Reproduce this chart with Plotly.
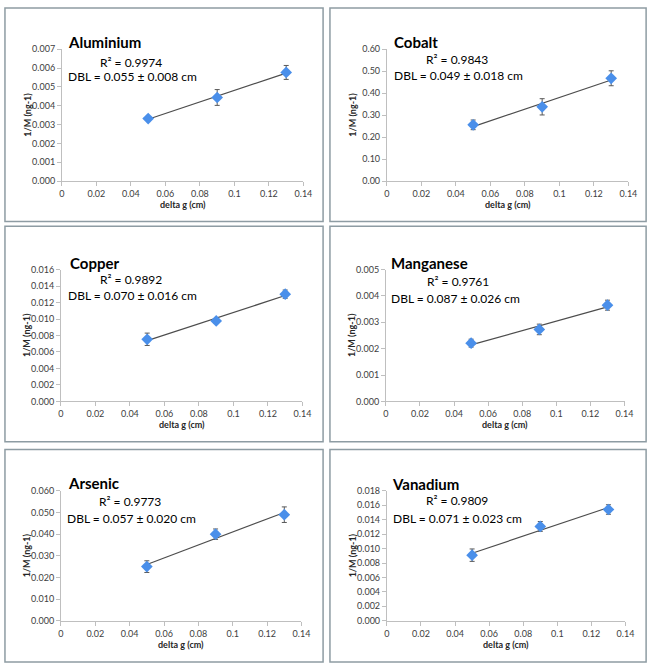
import numpy as np
import plotly.graph_objects as go

W, H = 661, 669

# ---------------- data ----------------
delta_g = [0.05, 0.09, 0.13]
x_tick_vals = [0, 0.02, 0.04, 0.06, 0.08, 0.10, 0.12, 0.14]
x_tick_labels = ["0", "0.02", "0.04", "0.06", "0.08", "0.1", "0.12", "0.14"]

elements = ["Aluminium", "Cobalt", "Copper", "Manganese", "Arsenic", "Vanadium"]
r2_labels = ["0.9974", "0.9843", "0.9892", "0.9761", "0.9773", "0.9809"]
dbl_labels = ["0.055 ± 0.008", "0.049 ± 0.018", "0.070 ± 0.016",
              "0.087 ± 0.026", "0.057 ± 0.020", "0.071 ± 0.023"]

inv_m_aluminium = [0.00332, 0.00444, 0.00577]
err_aluminium = [0.00004, 0.00042, 0.00037]
inv_m_cobalt = [0.256, 0.338, 0.468]
err_cobalt = [0.022, 0.037, 0.034]
inv_m_copper = [0.00754, 0.00977, 0.01302]
err_copper = [0.00075, 0.00030, 0.00050]
inv_m_manganese = [0.00221, 0.00273, 0.00365]
err_manganese = [0.00015, 0.00020, 0.00019]
inv_m_arsenic = [0.0250, 0.0400, 0.0490]
err_arsenic = [0.0027, 0.0024, 0.0036]
inv_m_vanadium = [0.00909, 0.01307, 0.01542]
err_vanadium = [0.00086, 0.00068, 0.00066]

y_max = [0.007, 0.60, 0.016, 0.005, 0.060, 0.018]
y_dtick = [0.001, 0.10, 0.002, 0.001, 0.010, 0.002]
y_fmt = [".3f", ".2f", ".3f", ".3f", ".3f", ".3f"]

series = [(inv_m_aluminium, err_aluminium), (inv_m_cobalt, err_cobalt),
          (inv_m_copper, err_copper), (inv_m_manganese, err_manganese),
          (inv_m_arsenic, err_arsenic), (inv_m_vanadium, err_vanadium)]

# ---------------- layout geometry (pixels) ----------------
boxes = [(2, 2, 326, 219), (333, 2, 655, 219),
         (2, 224, 326, 443), (333, 224, 655, 443),
         (2, 451, 326, 667), (333, 451, 655, 667)]
plots = [(60, 44, 306, 178), (391, 44, 637, 178),
         (59, 268, 305, 402), (390, 268, 633, 402),
         (59, 493, 304, 625), (391, 493, 634, 625)]
title_pos = [(64, 37), (396, 37), (66, 261), (393, 261), (64, 485), (394, 486)]
r2_pos = [(97, 57), (429, 54), (97, 278), (430, 280), (96, 504), (429, 503)]
dbl_pos = [(64, 72), (396, 71), (64, 294), (393, 297), (63, 521), (395, 521)]


def px(x):
    return x / W


def py(y):
    return 1 - y / H


FONT = "Lato"
MARKER = "#4A8FEA"
AXIS = "#BFBFBF"
TICKTXT = "#404040"

fig = go.Figure()
shapes, annotations = [], []
layout = dict(width=W, height=H, margin=dict(l=0, r=0, t=0, b=0),
              paper_bgcolor="white", plot_bgcolor="white", showlegend=False)

for i, (yv, ev) in enumerate(series):
    n = "" if i == 0 else str(i + 1)
    xa, ya = "x" + n, "y" + n
    fit = np.polyfit(delta_g, yv, 1)
    fx = [delta_g[0], delta_g[-1]]
    fy = [fit[0] * v + fit[1] for v in fx]
    fig.add_trace(go.Scatter(x=fx, y=fy, mode="lines", xaxis=xa, yaxis=ya,
                             line=dict(color="#4D4D4D", width=1.2), hoverinfo="skip"))
    fig.add_trace(go.Scatter(x=delta_g, y=yv, mode="markers", xaxis=xa, yaxis=ya,
                             marker=dict(symbol="diamond", size=9, color=MARKER),
                             error_y=dict(type="data", array=ev, visible=True,
                                          color="#595959", thickness=1, width=2.5)))
    x0, y0, x1, y1 = plots[i]
    layout["xaxis" + n] = dict(domain=[px(x0), px(x1)], range=[0, 0.14], anchor=ya,
                               tickvals=x_tick_vals, ticktext=x_tick_labels,
                               showline=True, linecolor=AXIS, linewidth=1,
                               ticks="outside", ticklen=4, tickcolor=AXIS,
                               showgrid=False, zeroline=False,
                               tickfont=dict(family=FONT, size=9, color=TICKTXT))
    layout["yaxis" + n] = dict(domain=[py(y1), py(y0)], range=[0, y_max[i]], anchor=xa,
                               dtick=y_dtick[i], tick0=0, tickformat=y_fmt[i],
                               showline=True, linecolor=AXIS, linewidth=1,
                               ticks="outside", ticklen=4, tickcolor=AXIS,
                               showgrid=False, zeroline=False,
                               tickfont=dict(family=FONT, size=9, color=TICKTXT))
    bx0, by0, bx1, by1 = boxes[i]
    shapes.append(dict(type="rect", xref="paper", yref="paper",
                       x0=px(bx0), x1=px(bx1), y0=py(by1), y1=py(by0),
                       line=dict(color="#8E9CA3", width=1.5), fillcolor="rgba(0,0,0,0)"))
    tx, ty = title_pos[i]
    annotations.append(dict(text="<b>" + elements[i] + "</b>", x=px(tx), y=py(ty),
                            xref="paper", yref="paper", xanchor="left", yanchor="middle",
                            showarrow=False, font=dict(family=FONT, size=15, color="black")))
    rx, ry = r2_pos[i]
    annotations.append(dict(text="R² = " + r2_labels[i], x=px(rx), y=py(ry),
                            xref="paper", yref="paper", xanchor="left", yanchor="middle",
                            showarrow=False, font=dict(family=FONT, size=12, color="black")))
    dx, dy = dbl_pos[i]
    annotations.append(dict(text="DBL = " + dbl_labels[i] + " cm", x=px(dx), y=py(dy),
                            xref="paper", yref="paper", xanchor="left", yanchor="middle",
                            showarrow=False, font=dict(family=FONT, size=12, color="black")))
    # axis titles
    annotations.append(dict(text="<b>delta g (cm)</b>", x=px((x0 + x1) / 2), y=py(y1 + 24),
                            xref="paper", yref="paper", xanchor="center", yanchor="middle",
                            showarrow=False, font=dict(family=FONT, size=9, color="#262626")))
    annotations.append(dict(text="<b>1/M (ng-1)</b>", x=px(x0 - 35), y=py((y0 + y1) / 2),
                            xref="paper", yref="paper", xanchor="center", yanchor="middle",
                            textangle=-90, showarrow=False,
                            font=dict(family=FONT, size=9, color="#262626")))

layout["shapes"] = shapes
layout["annotations"] = annotations
fig.update_layout(**layout)
fig.write_html("out.html", config={"displayModeBar": False},
               post_script="document.body.style.margin='0px';document.body.style.overflow='hidden';")
